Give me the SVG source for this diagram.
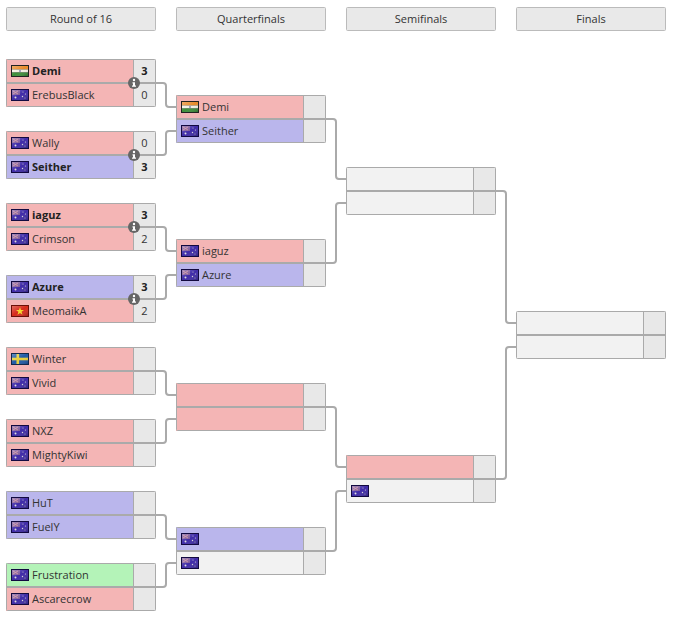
<svg xmlns="http://www.w3.org/2000/svg" width="680" height="623" viewBox="0 0 680 623">
<style>
text{font-family:"Open Sans","Noto Sans","Liberation Sans",sans-serif;font-size:11px;fill:#333}
.h{text-anchor:middle;font-size:11px}
.b{font-weight:700;fill:#222}
.s{text-anchor:middle}
.frame{fill:none;stroke:#aaa;stroke-width:1}
.hd{fill:#e9e9e9;stroke:#bbb;stroke-width:1}
.r{fill:#f4b5b5}.u{fill:#bab6ec}.g{fill:#b4f3b8}.e{fill:#f2f2f2}
.sc{fill:#e8e8e8}
.div{stroke:#aaa;stroke-width:1;fill:none}
.mid{stroke:#aaa;stroke-width:2;fill:none}
.con{stroke:#aaa;stroke-width:2;fill:none}
</style>
<defs>
<linearGradient id="gl" x1="0" y1="0" x2="1" y2="1"><stop offset="0" stop-color="#fff" stop-opacity=".3"/><stop offset=".5" stop-color="#fff" stop-opacity="0"/><stop offset="1" stop-color="#000" stop-opacity=".25"/></linearGradient>
<symbol id="au" width="18" height="12" viewBox="0 0 18 12"><rect width="18" height="12" fill="#120a40"/><rect x="1" y="1" width="16" height="10" fill="#3f2ba8"/><rect x="1" y="1" width="8" height="5" fill="#7d5a9c"/><path d="M2 2l5 3M7 2L2 5" stroke="#c98a9c" stroke-width="1"/><circle cx="4.500" cy="8.500" r="1" fill="#ddd"/><circle cx="12" cy="3" r=".6" fill="#ccc"/><circle cx="14.500" cy="5" r=".6" fill="#ccc"/><circle cx="11.500" cy="7.500" r=".7" fill="#ddd"/><circle cx="14" cy="9" r=".6" fill="#bbb"/><rect x="1" y="1" width="16" height="10" fill="url(#gl)"/></symbol>
<symbol id="in" width="18" height="12" viewBox="0 0 18 12"><rect width="18" height="12" fill="#222"/><rect x="1" y="1" width="16" height="3.500" fill="#e88a2a"/><rect x="1" y="4.500" width="16" height="3" fill="#f4f0e4"/><rect x="1" y="7.500" width="16" height="3.500" fill="#3d8f3a"/><circle cx="9" cy="6" r="1" fill="#8a8ab0"/><rect x="1" y="1" width="16" height="10" fill="url(#gl)"/></symbol>
<symbol id="vn" width="18" height="12" viewBox="0 0 18 12"><rect width="18" height="12" fill="#6a1008"/><rect x="1" y="1" width="16" height="10" fill="#d62a1a"/><path d="M9 2.200l1 2.800h3l-2.400 1.800.9 2.900L9 8l-2.500 1.700.9-2.900L5 5h3z" fill="#f4d82a"/><rect x="1" y="1" width="16" height="10" fill="url(#gl)"/></symbol>
<symbol id="se" width="18" height="12" viewBox="0 0 18 12"><rect width="18" height="12" fill="#12284a"/><rect x="1" y="1" width="16" height="10" fill="#1f5aa8"/><rect x="1" y="4.700" width="16" height="2.600" fill="#e8cf3a"/><rect x="5.500" y="1" width="2.600" height="10" fill="#e8cf3a"/><rect x="1" y="1" width="16" height="10" fill="url(#gl)"/></symbol>
<g id="info"><circle r="6" fill="#666"/><circle cy="-3" r="1.200" fill="#fff"/><path d="M-1.500-.8H1V2.500H2V3.800H-2V2.500H-1V.5H-1.500Z" fill="#fff"/></g>
</defs>
<rect width="680" height="623" fill="#fff"/>

<g id="headers">
<rect class="hd" x="6.500" y="7.500" width="149" height="23" rx="1"/><text class="h" x="81" y="23">Round of 16</text>
<rect class="hd" x="176.500" y="7.500" width="149" height="23" rx="1"/><text class="h" x="251" y="23">Quarterfinals</text>
<rect class="hd" x="346.500" y="7.500" width="149" height="23" rx="1"/><text class="h" x="421" y="23">Semifinals</text>
<rect class="hd" x="516.500" y="7.500" width="149" height="23" rx="1"/><text class="h" x="591" y="23">Finals</text>
</g>

<g id="connectors">
<path class="con" d="M155 83H163Q166 83 166 86V104Q166 107 169 107H176"/>
<path class="con" d="M155 155H163Q166 155 166 152V134Q166 131 169 131H176"/>
<path class="con" d="M155 227H163Q166 227 166 230V248Q166 251 169 251H176"/>
<path class="con" d="M155 299H163Q166 299 166 296V278Q166 275 169 275H176"/>
<path class="con" d="M155 371H163Q166 371 166 374V392Q166 395 169 395H176"/>
<path class="con" d="M155 443H163Q166 443 166 440V422Q166 419 169 419H176"/>
<path class="con" d="M155 515H163Q166 515 166 518V536Q166 539 169 539H176"/>
<path class="con" d="M155 587H163Q166 587 166 584V566Q166 563 169 563H176"/>
<path class="con" d="M325 119H333Q336 119 336 122V176Q336 179 339 179H346"/>
<path class="con" d="M325 263H333Q336 263 336 260V206Q336 203 339 203H346"/>
<path class="con" d="M325 407H333Q336 407 336 410V464Q336 467 339 467H346"/>
<path class="con" d="M325 551H333Q336 551 336 548V494Q336 491 339 491H346"/>
<path class="con" d="M495 191H503Q506 191 506 194V320Q506 323 509 323H516"/>
<path class="con" d="M495 479H503Q506 479 506 476V350Q506 347 509 347H516"/>
</g>

<g id="m1"><rect class="r" x="6" y="59" width="128" height="24"/><rect class="r" x="6" y="83" width="128" height="24"/><rect class="sc" x="134" y="59" width="22" height="48"/><path class="div" d="M133.500 59V107"/><path class="mid" d="M6 83H155"/><rect class="frame" x="6.500" y="59.500" width="149" height="47" rx="1"/><use href="#in" x="11" y="65"/><text class="b" x="32" y="75">Demi</text><text class="s b" x="144.500" y="75">3</text><use href="#au" x="11" y="89"/><text x="32" y="99">ErebusBlack</text><text class="s" x="144.500" y="99">0</text><use href="#info" x="134" y="83"/></g>
<g id="m2"><rect class="r" x="6" y="131" width="128" height="24"/><rect class="u" x="6" y="155" width="128" height="24"/><rect class="sc" x="134" y="131" width="22" height="48"/><path class="div" d="M133.500 131V179"/><path class="mid" d="M6 155H155"/><rect class="frame" x="6.500" y="131.500" width="149" height="47" rx="1"/><use href="#au" x="11" y="137"/><text x="32" y="147">Wally</text><text class="s" x="144.500" y="147">0</text><use href="#au" x="11" y="161"/><text class="b" x="32" y="171">Seither</text><text class="s b" x="144.500" y="171">3</text><use href="#info" x="134" y="155"/></g>
<g id="m3"><rect class="r" x="6" y="203" width="128" height="24"/><rect class="r" x="6" y="227" width="128" height="24"/><rect class="sc" x="134" y="203" width="22" height="48"/><path class="div" d="M133.500 203V251"/><path class="mid" d="M6 227H155"/><rect class="frame" x="6.500" y="203.500" width="149" height="47" rx="1"/><use href="#au" x="11" y="209"/><text class="b" x="32" y="219">iaguz</text><text class="s b" x="144.500" y="219">3</text><use href="#au" x="11" y="233"/><text x="32" y="243">Crimson</text><text class="s" x="144.500" y="243">2</text><use href="#info" x="134" y="227"/></g>
<g id="m4"><rect class="u" x="6" y="275" width="128" height="24"/><rect class="r" x="6" y="299" width="128" height="24"/><rect class="sc" x="134" y="275" width="22" height="48"/><path class="div" d="M133.500 275V323"/><path class="mid" d="M6 299H155"/><rect class="frame" x="6.500" y="275.500" width="149" height="47" rx="1"/><use href="#au" x="11" y="281"/><text class="b" x="32" y="291">Azure</text><text class="s b" x="144.500" y="291">3</text><use href="#vn" x="11" y="305"/><text x="32" y="315">MeomaikA</text><text class="s" x="144.500" y="315">2</text><use href="#info" x="134" y="299"/></g>
<g id="m5"><rect class="r" x="6" y="347" width="128" height="24"/><rect class="r" x="6" y="371" width="128" height="24"/><rect class="sc" x="134" y="347" width="22" height="48"/><path class="div" d="M133.500 347V395"/><path class="mid" d="M6 371H155"/><rect class="frame" x="6.500" y="347.500" width="149" height="47" rx="1"/><use href="#se" x="11" y="353"/><text x="32" y="363">Winter</text><use href="#au" x="11" y="377"/><text x="32" y="387">Vivid</text></g>
<g id="m6"><rect class="r" x="6" y="419" width="128" height="24"/><rect class="r" x="6" y="443" width="128" height="24"/><rect class="sc" x="134" y="419" width="22" height="48"/><path class="div" d="M133.500 419V467"/><path class="mid" d="M6 443H155"/><rect class="frame" x="6.500" y="419.500" width="149" height="47" rx="1"/><use href="#au" x="11" y="425"/><text x="32" y="435">NXZ</text><use href="#au" x="11" y="449"/><text x="32" y="459">MightyKiwi</text></g>
<g id="m7"><rect class="u" x="6" y="491" width="128" height="24"/><rect class="u" x="6" y="515" width="128" height="24"/><rect class="sc" x="134" y="491" width="22" height="48"/><path class="div" d="M133.500 491V539"/><path class="mid" d="M6 515H155"/><rect class="frame" x="6.500" y="491.500" width="149" height="47" rx="1"/><use href="#au" x="11" y="497"/><text x="32" y="507">HuT</text><use href="#au" x="11" y="521"/><text x="32" y="531">FuelY</text></g>
<g id="m8"><rect class="g" x="6" y="563" width="128" height="24"/><rect class="r" x="6" y="587" width="128" height="24"/><rect class="sc" x="134" y="563" width="22" height="48"/><path class="div" d="M133.500 563V611"/><path class="mid" d="M6 587H155"/><rect class="frame" x="6.500" y="563.500" width="149" height="47" rx="1"/><use href="#au" x="11" y="569"/><text x="32" y="579">Frustration</text><use href="#au" x="11" y="593"/><text x="32" y="603">Ascarecrow</text></g>

<g id="q1"><rect class="r" x="176" y="95" width="128" height="24"/><rect class="u" x="176" y="119" width="128" height="24"/><rect class="sc" x="304" y="95" width="22" height="48"/><path class="div" d="M303.500 95V143"/><path class="mid" d="M176 119H325"/><rect class="frame" x="176.500" y="95.500" width="149" height="47" rx="1"/><use href="#in" x="181" y="101"/><text x="202" y="111">Demi</text><use href="#au" x="181" y="125"/><text x="202" y="135">Seither</text></g>
<g id="q2"><rect class="r" x="176" y="239" width="128" height="24"/><rect class="u" x="176" y="263" width="128" height="24"/><rect class="sc" x="304" y="239" width="22" height="48"/><path class="div" d="M303.500 239V287"/><path class="mid" d="M176 263H325"/><rect class="frame" x="176.500" y="239.500" width="149" height="47" rx="1"/><use href="#au" x="181" y="245"/><text x="202" y="255">iaguz</text><use href="#au" x="181" y="269"/><text x="202" y="279">Azure</text></g>
<g id="q3"><rect class="r" x="176" y="383" width="128" height="24"/><rect class="r" x="176" y="407" width="128" height="24"/><rect class="sc" x="304" y="383" width="22" height="48"/><path class="div" d="M303.500 383V431"/><path class="mid" d="M176 407H325"/><rect class="frame" x="176.500" y="383.500" width="149" height="47" rx="1"/></g>
<g id="q4"><rect class="u" x="176" y="527" width="128" height="24"/><rect class="e" x="176" y="551" width="128" height="24"/><rect class="sc" x="304" y="527" width="22" height="48"/><path class="div" d="M303.500 527V575"/><path class="mid" d="M176 551H325"/><rect class="frame" x="176.500" y="527.500" width="149" height="47" rx="1"/><use href="#au" x="181" y="533"/><use href="#au" x="181" y="557"/></g>

<g id="s1"><rect class="e" x="346" y="167" width="128" height="24"/><rect class="e" x="346" y="191" width="128" height="24"/><rect class="sc" x="474" y="167" width="22" height="48"/><path class="div" d="M473.500 167V215"/><path class="mid" d="M346 191H495"/><rect class="frame" x="346.500" y="167.500" width="149" height="47" rx="1"/></g>
<g id="s2"><rect class="r" x="346" y="455" width="128" height="24"/><rect class="e" x="346" y="479" width="128" height="24"/><rect class="sc" x="474" y="455" width="22" height="48"/><path class="div" d="M473.500 455V503"/><path class="mid" d="M346 479H495"/><rect class="frame" x="346.500" y="455.500" width="149" height="47" rx="1"/><use href="#au" x="351" y="485"/></g>

<g id="f1"><rect class="e" x="516" y="311" width="128" height="24"/><rect class="e" x="516" y="335" width="128" height="24"/><rect class="sc" x="644" y="311" width="22" height="48"/><path class="div" d="M643.500 311V359"/><path class="mid" d="M516 335H665"/><rect class="frame" x="516.500" y="311.500" width="149" height="47" rx="1"/></g>
</svg>
